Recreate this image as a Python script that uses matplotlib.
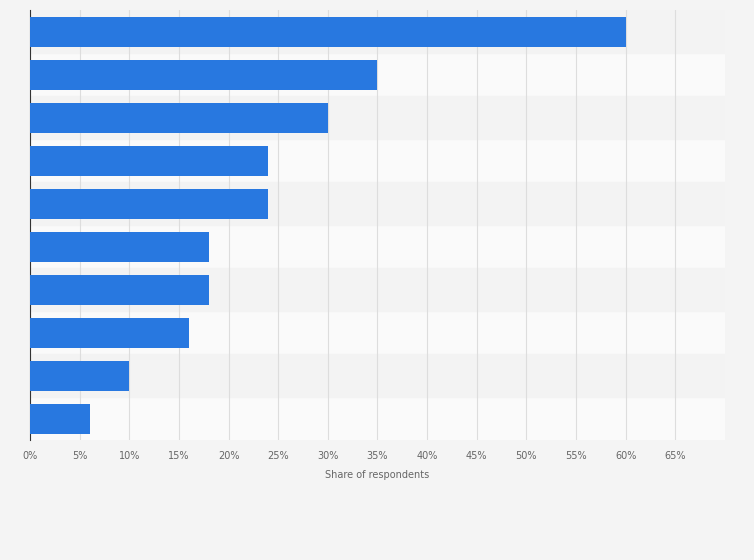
import matplotlib
matplotlib.use('Agg')
import matplotlib.pyplot as plt
from matplotlib.ticker import FuncFormatter

values = [60, 35, 30, 24, 24, 18, 18, 16, 10, 6]
ticks = list(range(0, 70, 5))

fig = plt.figure(figsize=(7.54, 5.6), dpi=100, facecolor='#f4f4f4')
ax = fig.add_axes([0.0398, 0.214, 0.9217, 0.768])
ax.set_facecolor('#fafafa')

n = len(values)
ypos = list(range(n))[::-1]
for i, y in enumerate(ypos):
    if i % 2 == 0:
        ax.axhspan(y - 0.5, y + 0.5, color='#f3f3f3', zorder=0)
ax.barh(ypos, values, height=0.7, color='#2878e0', zorder=3)

ax.set_xlim(0, 70)
ax.set_ylim(-0.5, n - 0.5)
ax.set_xticks(ticks)
ax.xaxis.set_major_formatter(FuncFormatter(lambda v, p: f'{int(v)}%'))
ax.set_yticks([])
ax.grid(axis='x', color='#dddddd', lw=0.8, zorder=1)
ax.tick_params(axis='x', length=0, labelsize=7, labelcolor='#666666', pad=8)
for s in ['top', 'right', 'bottom']:
    ax.spines[s].set_visible(False)
ax.spines['left'].set_color('#333333')
ax.set_xlabel('Share of respondents', fontsize=7, color='#666666', labelpad=6)

fig.savefig('out.png', dpi=100, facecolor=fig.get_facecolor())
